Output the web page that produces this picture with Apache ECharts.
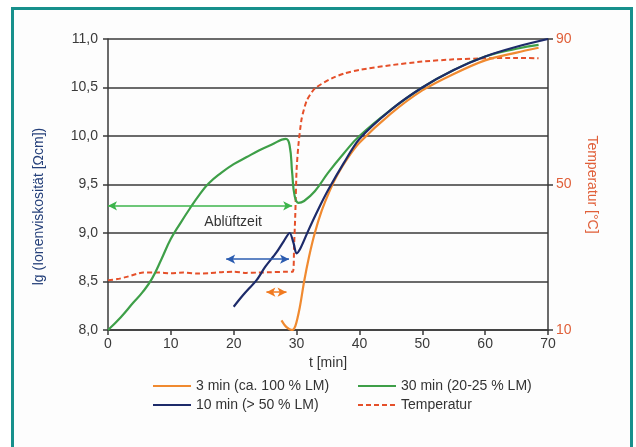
<!DOCTYPE html>
<html><head><meta charset="utf-8">
<script src="https://cdn.jsdelivr.net/npm/echarts@6/dist/echarts.min.js"></script>
<style>
html,body{margin:0;padding:0;background:#fff;width:636px;height:447px;overflow:hidden}
#frame{position:absolute;left:11px;top:7px;width:622px;height:470px;border:3px solid #17908c;background:#fdfdfd;box-sizing:border-box}
#chart{position:absolute;left:0;top:0;width:636px;height:447px}
</style></head><body>
<div id="frame"></div><div id="chart"></div>
<script>
// ---- data ----
const seriesNames = ['3 min (ca. 100 % LM)', '30 min (20-25 % LM)', '10 min (> 50 % LM)', 'Temperatur'];
const greenT = [0, 2, 4, 5.5, 7, 8.5, 10, 11.5, 13, 14.5, 16, 18, 20, 22, 24, 26, 28.3, 28.9, 29.3, 29.7, 30.3, 31.2, 32.9, 35, 37.5, 40, 45, 50, 55, 60, 65, 68.5];
const greenV = [8.0, 8.13, 8.28, 8.39, 8.53, 8.73, 8.94, 9.1, 9.25, 9.39, 9.51, 9.62, 9.71, 9.78, 9.85, 9.91, 9.97, 9.9, 9.62, 9.38, 9.31, 9.33, 9.43, 9.62, 9.82, 10.0, 10.27, 10.5, 10.68, 10.82, 10.9, 10.94];
const navyT = [20, 21.5, 23.7, 25, 26.8, 28, 28.9, 29.5, 30.0, 30.6, 31.9, 33.5, 35, 37.5, 40, 45, 50, 55, 60, 65, 70];
const navyV = [8.24, 8.36, 8.52, 8.65, 8.8, 8.92, 9.0, 8.9, 8.79, 8.84, 9.03, 9.25, 9.44, 9.72, 9.97, 10.27, 10.5, 10.68, 10.82, 10.92, 11.0];
const orangeT = [27.6, 28.4, 29.3, 29.8, 30.5, 31.2, 32.0, 32.9, 34.0, 35.3, 36.5, 38, 40, 45, 50, 55, 60, 65, 68.5];
const orangeV = [8.10, 8.03, 8.0, 8.04, 8.23, 8.5, 8.76, 9.0, 9.23, 9.44, 9.6, 9.76, 9.93, 10.23, 10.47, 10.64, 10.78, 10.86, 10.91];
const tempT = [0, 1.5, 3, 4.5, 5.6, 8, 10, 12, 14, 16, 18, 20, 22, 24, 26, 28, 29.4, 29.6, 29.8, 30.0, 30.3, 30.8, 31.6, 32.9, 35.6, 37.7, 40, 45, 50, 55, 60, 65, 68.5];
const tempV = [23.7, 24.0, 24.6, 25.4, 25.8, 25.8, 25.6, 25.8, 25.5, 25.6, 25.9, 26.0, 25.7, 25.8, 25.9, 26.0, 26.0, 33, 42, 54, 61, 68, 73, 76.4, 79.2, 80.6, 81.5, 82.8, 83.8, 84.4, 84.7, 84.8, 84.7];
// arrows: [tStart, tEnd, level]
const arrowGreen = [0, 29.3, 9.28];
const arrowBlue = [18.8, 28.8, 8.73];
const arrowOrange = [25.2, 28.4, 8.39];
const noteText = 'Ablüftzeit';
const notePos = [19.9, 9.11];
// ---- chart ----
const C = {orange:'#f08a30', green:'#3e9f48', navy:'#1d2b6a', temp:'#e5502a'};
function zip(a, b){ return a.map((t, i) => [t, b[i]]); }
function arrow(a, color){
  return {silent:true, symbol:['arrow','arrow'], symbolSize:[7,9], animation:false,
    label:{show:false}, lineStyle:{type:'solid', width:1.5, color:color},
    data:[[{coord:[a[0], a[2]]}, {coord:[a[1], a[2]]}]]};
}
const font = 'Liberation Sans, Arial, sans-serif';
const chart = echarts.init(document.getElementById('chart'), null, {renderer:'canvas'});
const legBase = {itemWidth:38, itemHeight:12, padding:0, itemStyle:{opacity:0},
  textStyle:{fontSize:14, color:'#333', fontFamily:font}, selectedMode:false};
chart.setOption({
  animation:false,
  backgroundColor:'transparent',
  grid:{left:108, right:88, top:39, bottom:117},
  legend:[
    Object.assign({data:[seriesNames[0]], left:152, top:379}, legBase),
    Object.assign({data:[seriesNames[1]], left:357, top:379}, legBase),
    Object.assign({data:[seriesNames[2]], left:152, top:398}, legBase),
    Object.assign({data:[seriesNames[3]], left:357, top:398}, legBase)
  ],
  xAxis:{type:'value', min:0, max:70, interval:10, name:'t [min]', nameLocation:'middle', nameGap:21,
    nameTextStyle:{fontSize:14, color:'#333', fontFamily:font},
    axisLine:{show:true, lineStyle:{color:'#3a3a3a', width:1.5}},
    axisTick:{show:true, length:5, lineStyle:{color:'#3a3a3a', width:1.5}},
    axisLabel:{fontSize:14, color:'#3a3a3a', margin:7, fontFamily:font},
    splitLine:{show:false}},
  yAxis:[
    {type:'value', min:8, max:11, interval:0.5, position:'left',
      name:'lg (Ionenviskosität [Ωcm])', nameLocation:'middle', nameGap:62, nameRotate:90,
      nameTextStyle:{fontSize:14, color:'#25407a', fontFamily:font, padding:[0,44,0,0]},
      axisLine:{show:true, lineStyle:{color:'#3a3a3a', width:1.5}},
      axisTick:{show:true, length:5, lineStyle:{color:'#3a3a3a', width:1.5}},
      axisLabel:{fontSize:14, color:'#3a3a3a', margin:10, fontFamily:font,
        formatter:v => v.toFixed(1).replace('.', ',')},
      splitLine:{show:true, lineStyle:{color:'#3a3a3a', width:1.5}}},
    {type:'value', min:10, max:90, interval:40, position:'right',
      name:'Temperatur [°C]', nameLocation:'middle', nameGap:37, nameRotate:-90,
      nameTextStyle:{fontSize:14, color:'#e0603a', fontFamily:font},
      axisLine:{show:true, lineStyle:{color:'#3a3a3a', width:1.5}},
      axisTick:{show:true, length:5, lineStyle:{color:'#3a3a3a', width:1.5}},
      axisLabel:{fontSize:14, color:'#e0603a', margin:8, fontFamily:font},
      splitLine:{show:false}}
  ],
  series:[
    {name:seriesNames[0], type:'line', yAxisIndex:0, data:zip(orangeT, orangeV), smooth:0.3, symbol:'none',
      lineStyle:{color:C.orange, width:2.2}, itemStyle:{color:C.orange}, z:3,
      markLine:arrow(arrowOrange, '#f07a20')},
    {name:seriesNames[1], type:'line', yAxisIndex:0, data:zip(greenT, greenV), smooth:0.45, symbol:'none',
      lineStyle:{color:C.green, width:2.2}, itemStyle:{color:C.green}, z:3,
      markLine:arrow(arrowGreen, '#3cb44b'),
      markPoint:{silent:true, symbol:'circle', symbolSize:0, animation:false,
        data:[{coord:notePos, label:{show:true, position:'inside', formatter:noteText, fontSize:14, color:'#333', fontFamily:font}}]}},
    {name:seriesNames[2], type:'line', yAxisIndex:0, data:zip(navyT, navyV), smooth:0.3, symbol:'none',
      lineStyle:{color:C.navy, width:2.2}, itemStyle:{color:C.navy}, z:4,
      markLine:arrow(arrowBlue, '#2b5cb0')},
    {name:seriesNames[3], type:'line', yAxisIndex:1, data:zip(tempT, tempV), smooth:0.2, symbol:'none',
      lineStyle:{color:C.temp, width:2, type:[5,3]}, itemStyle:{color:C.temp}, z:2}
  ]
});
</script></body></html>
